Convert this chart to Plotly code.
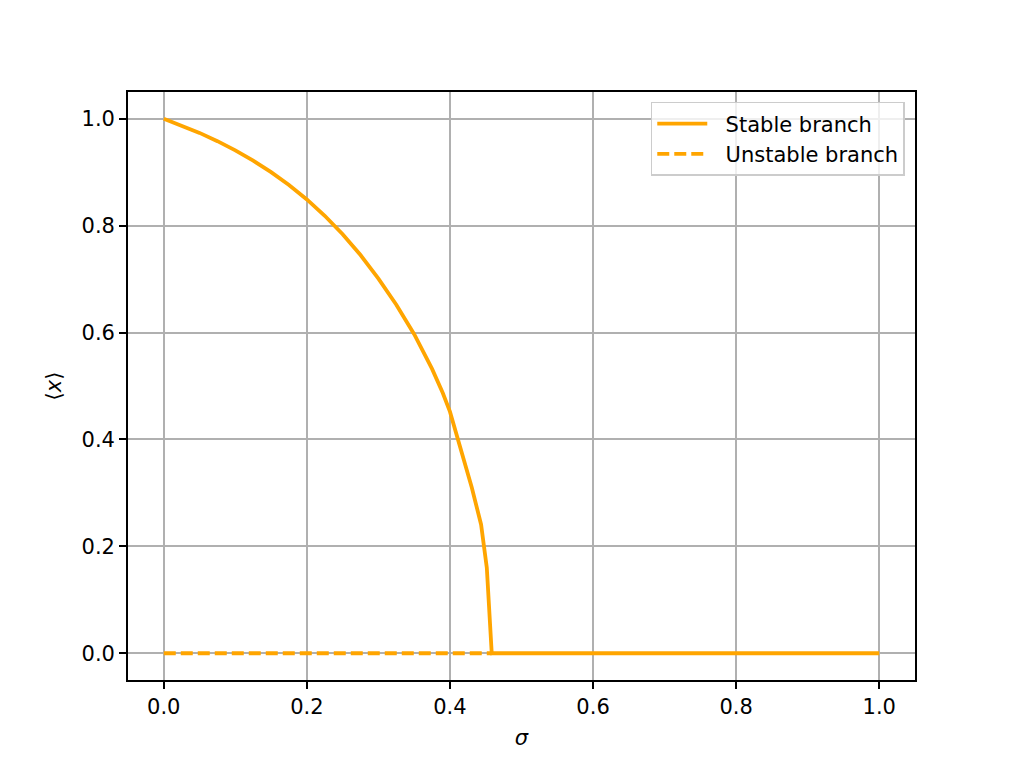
import plotly.graph_objects as go

# Values
sigma_stable = [0.0, 0.025, 0.05, 0.075, 0.1, 0.125, 0.15, 0.175, 0.2, 0.225,
                0.25, 0.275, 0.3, 0.325, 0.35, 0.375, 0.39, 0.4, 0.4305,
                0.4435, 0.4515, 0.4584, 0.6, 0.8, 1.0]
x_stable = [1.0, 0.9875, 0.9735, 0.958, 0.9408, 0.9215, 0.900, 0.876, 0.849, 0.8185,
            0.784, 0.745, 0.701, 0.652, 0.597, 0.532, 0.487, 0.452, 0.31,
            0.241, 0.16, 0.0, 0.0, 0.0, 0.0]

sigma_unstable = [0.0, 0.4584]
x_unstable = [0.0, 0.0]

tick_vals = [0, 0.2, 0.4, 0.6, 0.8, 1.0]
tick_text = ["0.0", "0.2", "0.4", "0.6", "0.8", "1.0"]

orange = "#FFA500"
font = "DejaVu Sans"
pad = "\u00a0\u00a0"  # small gap between legend symbol and text

fig = go.Figure()
fig.add_trace(go.Scatter(x=sigma_stable, y=x_stable, mode="lines",
                         name=pad + "Stable branch",
                         line=dict(color=orange, width=3.8)))
fig.add_trace(go.Scatter(x=sigma_unstable, y=x_unstable, mode="lines",
                         name=pad + "Unstable branch",
                         line=dict(color=orange, width=3.8, dash="12px,5px")))

axis_common = dict(
    showgrid=True, gridcolor="#b0b0b0", gridwidth=1.7,
    showline=True, linecolor="black", linewidth=1.7, mirror=True,
    ticks="outside", ticklen=7, tickwidth=1.7, tickcolor="black",
    zeroline=False, tickfont=dict(family=font, size=21, color="black"),
    range=[-0.05, 1.05], tickvals=tick_vals, ticktext=tick_text,
)

fig.update_xaxes(title=dict(text="<i>σ</i>", font=dict(family=font, size=21), standoff=12),
                 **axis_common)
fig.update_yaxes(title=dict(text="⟨<i>x</i>⟩", font=dict(family=font, size=21), standoff=14),
                 **axis_common)

fig.update_layout(
    width=1017, height=763,
    margin=dict(l=120, r=110, t=84, b=91),
    paper_bgcolor="white", plot_bgcolor="white",
    font=dict(family=font, size=21, color="black"),
    legend=dict(x=0.987, y=0.983, xanchor="right", yanchor="top",
                bgcolor="rgba(255,255,255,0.8)", bordercolor="#cccccc",
                borderwidth=1.5, font=dict(family=font, size=21),
                itemwidth=50),
    showlegend=True,
)

fig.write_html("out.html")
